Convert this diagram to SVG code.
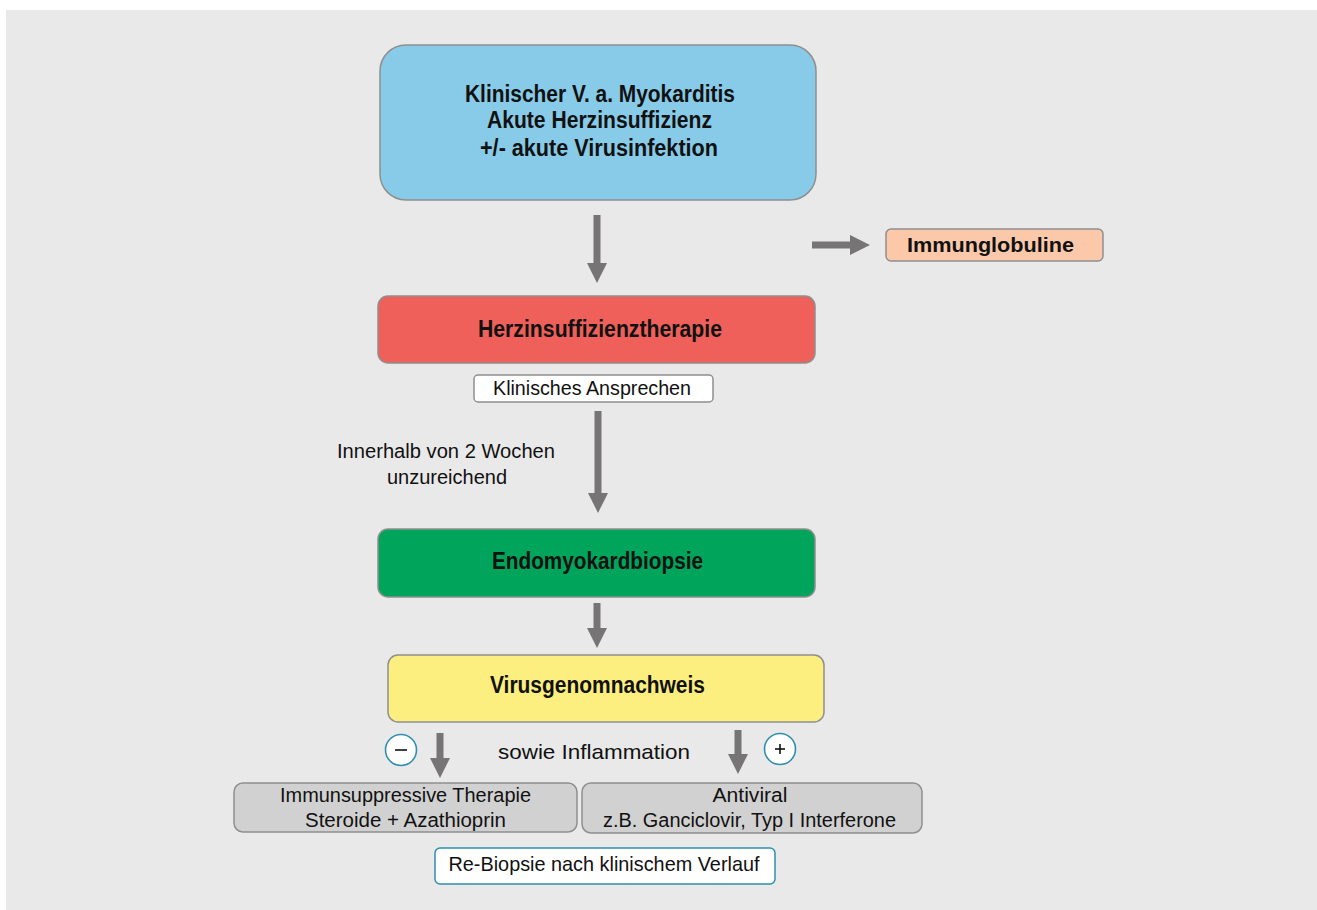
<svg xmlns="http://www.w3.org/2000/svg" width="1317" height="910" viewBox="0 0 1317 910">
  <defs>
    <marker id="ah" viewBox="0 0 20 20" refX="2" refY="10" markerWidth="20" markerHeight="20" markerUnits="userSpaceOnUse" orient="auto">
      <path d="M0,0 L20,10 L0,20 Z" fill="#777475"/>
    </marker>
    <style>
      .box { stroke: #8f8f8f; stroke-width: 1.5; }
      .t { font-family: "Liberation Sans", Arial, sans-serif; fill: #111; text-anchor: middle; }
      .b { font-weight: bold; font-size: 23px; }
      .r { font-size: 21px; }
      .s { font-size: 20px; }
      .conn { stroke: #777475; stroke-width: 7; fill: none; marker-end: url(#ah); }
      .circ { fill: #ffffff; stroke: #2f8fae; stroke-width: 1.6; }
    </style>
  </defs>

  <rect x="0" y="0" width="1317" height="910" fill="#ffffff"/>
  <rect x="6" y="10" width="1311" height="900" fill="#e9e9e9"/>

  <g id="node-start">
    <rect class="box" x="380" y="45" width="436" height="155" rx="26" fill="#88cbe9"/>
    <text class="t b" x="600" y="102" textLength="270" lengthAdjust="spacingAndGlyphs">Klinischer V. a. Myokarditis</text>
    <text class="t b" x="599.5" y="128" textLength="225" lengthAdjust="spacingAndGlyphs">Akute Herzinsuffizienz</text>
    <text class="t b" x="599" y="156" textLength="238" lengthAdjust="spacingAndGlyphs">+/- akute Virusinfektion</text>
  </g>

  <g id="node-immunglobuline">
    <rect class="box" x="886" y="229" width="217" height="32" rx="5" fill="#fcc8aa"/>
    <text class="t b" x="990.5" y="252" style="font-size:21px" textLength="167" lengthAdjust="spacingAndGlyphs">Immunglobuline</text>
  </g>

  <g id="node-herzinsuffizienztherapie">
    <rect class="box" x="378" y="296" width="437" height="67" rx="10" fill="#ee6059"/>
    <text class="t b" x="600" y="337" textLength="244" lengthAdjust="spacingAndGlyphs">Herzinsuffizienztherapie</text>
  </g>

  <g id="node-ansprechen">
    <rect class="box" x="474" y="375" width="239" height="27" rx="4" fill="#ffffff"/>
    <text class="t r" x="592" y="395" textLength="198" lengthAdjust="spacingAndGlyphs">Klinisches Ansprechen</text>
  </g>

  <g id="label-innerhalb">
    <text class="t s" x="446" y="458" textLength="218" lengthAdjust="spacingAndGlyphs">Innerhalb von 2 Wochen</text>
    <text class="t s" x="447" y="484" textLength="120" lengthAdjust="spacingAndGlyphs">unzureichend</text>
  </g>

  <g id="node-endomyokardbiopsie">
    <rect class="box" x="378" y="529" width="437" height="68" rx="10" fill="#00a55b"/>
    <text class="t b" x="597.5" y="569" textLength="211" lengthAdjust="spacingAndGlyphs">Endomyokardbiopsie</text>
  </g>

  <g id="node-virusgenomnachweis">
    <rect class="box" x="388" y="655" width="436" height="67" rx="10" fill="#fcef7f"/>
    <text class="t b" x="597.5" y="693" textLength="215" lengthAdjust="spacingAndGlyphs">Virusgenomnachweis</text>
  </g>

  <g id="label-inflammation">
    <text class="t s" x="594" y="759" style="font-size:21px" textLength="192" lengthAdjust="spacingAndGlyphs">sowie Inflammation</text>
  </g>

  <g id="sign-minus">
    <circle class="circ" cx="401" cy="750" r="15.5"/>
    <line x1="395" y1="750" x2="407" y2="750" stroke="#111" stroke-width="1.6"/>
  </g>

  <g id="sign-plus">
    <circle class="circ" cx="780" cy="749" r="15.5"/>
    <line x1="775" y1="749" x2="785" y2="749" stroke="#111" stroke-width="1.6"/>
    <line x1="780" y1="744" x2="780" y2="754" stroke="#111" stroke-width="1.6"/>
  </g>

  <g id="node-immunsuppressive">
    <rect class="box" x="234" y="783" width="343" height="49" rx="9" fill="#d1d1d1"/>
    <text class="t s" x="405.5" y="802" textLength="251" lengthAdjust="spacingAndGlyphs">Immunsuppressive Therapie</text>
    <text class="t s" x="405.5" y="827" textLength="201" lengthAdjust="spacingAndGlyphs">Steroide + Azathioprin</text>
  </g>

  <g id="node-antiviral">
    <rect class="box" x="582" y="783" width="340" height="50" rx="9" fill="#d1d1d1"/>
    <text class="t s" x="750" y="802" textLength="75" lengthAdjust="spacingAndGlyphs">Antiviral</text>
    <text class="t s" x="749.5" y="827" textLength="293" lengthAdjust="spacingAndGlyphs">z.B. Ganciclovir, Typ I Interferone</text>
  </g>

  <g id="node-rebiopsie">
    <rect x="435" y="848" width="340" height="36" rx="5" fill="#ffffff" stroke="#2f8fae" stroke-width="1.5"/>
    <text class="t r" x="604" y="871" textLength="311" lengthAdjust="spacingAndGlyphs">Re-Biopsie nach klinischem Verlauf</text>
  </g>

  <g id="connectors">
    <line class="conn" x1="597" y1="215" x2="597" y2="265"/>
    <line class="conn" x1="812" y1="245" x2="852" y2="245"/>
    <line class="conn" x1="598" y1="411" x2="598" y2="495"/>
    <line class="conn" x1="597" y1="603" x2="597" y2="630"/>
    <line class="conn" x1="440" y1="733" x2="440" y2="760"/>
    <line class="conn" x1="738" y1="730" x2="738" y2="756"/>
  </g>
</svg>
